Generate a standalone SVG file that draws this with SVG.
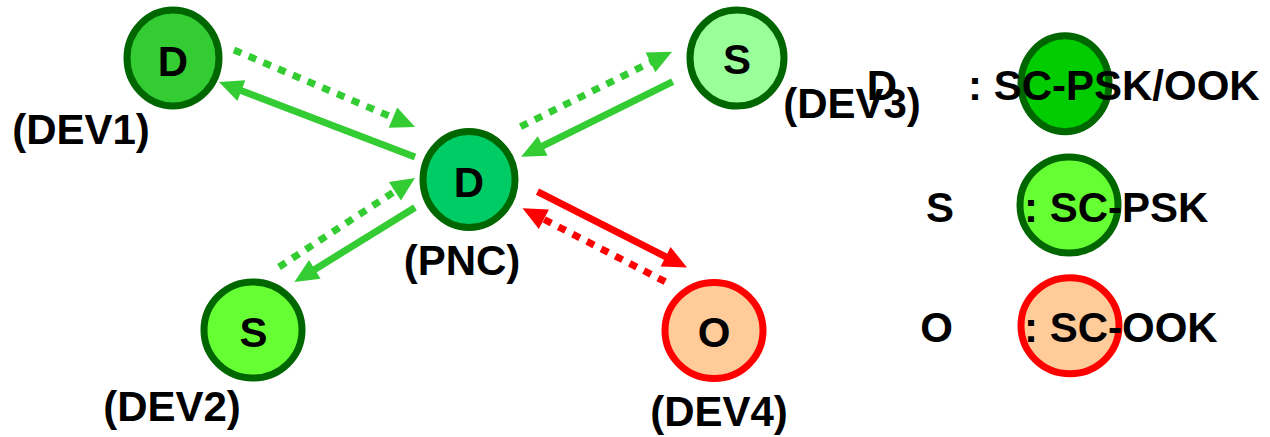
<svg xmlns="http://www.w3.org/2000/svg" width="1270" height="437" viewBox="0 0 1270 437">
<style>
text{font-family:"Liberation Sans",Arial,sans-serif;font-weight:bold;font-size:42px;fill:#000}
.c{text-anchor:middle}
.gn{stroke:#006600;stroke-width:7}
.rn{stroke:#FF0000;stroke-width:7}
.g{stroke:#33CC33;stroke-width:7;fill:none}
.r{stroke:#FF0000;stroke-width:7;fill:none}
.dot{stroke-dasharray:8 8}
</style>
<defs>
<marker id="ag" markerUnits="userSpaceOnUse" markerWidth="26" markerHeight="24" refX="2" refY="11" orient="auto" overflow="visible"><path d="M0,0 L24,11 L0,22 z" fill="#33CC33"/></marker>
<marker id="ar" markerUnits="userSpaceOnUse" markerWidth="26" markerHeight="24" refX="2" refY="11" orient="auto" overflow="visible"><path d="M0,0 L24,11 L0,22 z" fill="#FF0000"/></marker>
</defs>
<g id="connectors">
<line class="g dot" x1="234" y1="50" x2="394.8" y2="118.4" marker-end="url(#ag)"/>
<line class="g" x1="415" y1="157" x2="239.5" y2="89.9" marker-end="url(#ag)"/>
<line class="g dot" x1="279" y1="267" x2="396.6" y2="190.1" marker-end="url(#ag)"/>
<line class="g" x1="415" y1="207.5" x2="313.1" y2="270.4" marker-end="url(#ag)"/>
<line class="g dot" x1="520.5" y1="126.7" x2="652.3" y2="61.5" marker-end="url(#ag)"/>
<line class="g" x1="672.7" y1="81.7" x2="540.9" y2="146.9" marker-end="url(#ag)"/>
<line class="r" x1="537.5" y1="191.7" x2="667.4" y2="257.6" marker-end="url(#ar)"/>
<line class="r dot" x1="665.2" y1="281.7" x2="542.1" y2="218.4" marker-end="url(#ar)"/>
</g>
<g id="dev1">
<ellipse class="gn" cx="173" cy="58" rx="46" ry="48" fill="#33CC33"/>
<text class="c" x="173" y="76">D</text>
<text class="c" x="81" y="144">(DEV1)</text>
</g>
<g id="pnc">
<ellipse class="gn" cx="469" cy="179.5" rx="46" ry="48" fill="#00CC66"/>
<text class="c" x="469" y="197">D</text>
<text class="c" x="462" y="275">(PNC)</text>
</g>
<g id="dev3">
<ellipse class="gn" cx="737" cy="58" rx="47" ry="48" fill="#99FF99"/>
<text class="c" x="737" y="74">S</text>
<text class="c" x="852" y="118">(DEV3)</text>
</g>
<g id="dev2">
<ellipse class="gn" cx="253" cy="330" rx="49" ry="48" fill="#66FF33"/>
<text class="c" x="253.5" y="347">S</text>
<text class="c" x="172" y="421">(DEV2)</text>
</g>
<g id="dev4">
<ellipse class="rn" cx="714" cy="330.5" rx="49" ry="48" fill="#FFCC99"/>
<text class="c" x="714" y="347">O</text>
<text class="c" x="719" y="426">(DEV4)</text>
</g>
<g id="legend-d">
<ellipse class="gn" cx="1065" cy="83.7" rx="44" ry="48" fill="#00CC00"/>
<text class="c" x="882" y="100">D</text>
<text x="968" y="100">: SC-PSK/OOK</text>
</g>
<g id="legend-s">
<ellipse class="gn" cx="1069" cy="205" rx="49" ry="48" fill="#66FF33"/>
<text class="c" x="940" y="222">S</text>
<text x="1024" y="222">: SC-PSK</text>
</g>
<g id="legend-o">
<ellipse class="rn" cx="1070" cy="325.7" rx="49" ry="48" fill="#FFCC99"/>
<text class="c" x="936.5" y="342">O</text>
<text x="1024" y="342">: SC-OOK</text>
</g>
</svg>
